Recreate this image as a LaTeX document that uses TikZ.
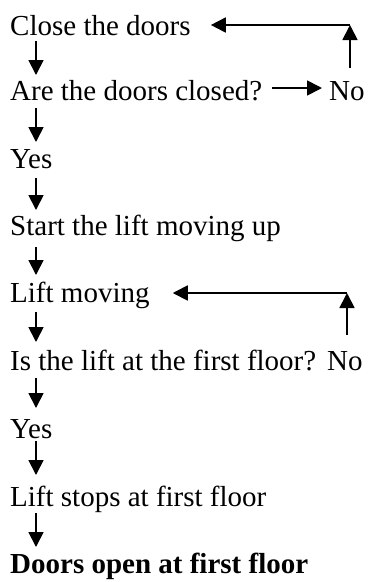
\documentclass[tikz,border=0pt]{standalone}
\usepackage{fontspec}
\setmainfont{Liberation Serif}
\usetikzlibrary{arrows.meta,calc}
\begin{document}
\begin{tikzpicture}[x=1pt,y=-1pt,
  lbl/.style={anchor=base west,inner sep=0pt,font=\fontsize{29}{34}\selectfont},
  arr/.style={line width=1.8pt,-{Triangle[length=15pt,width=15pt]}}]
\useasboundingbox (0,0) rectangle (371,582);
\coordinate (ax) at (36,0);
\node[lbl] (close) at (10,35) {Close the doors};
\node[lbl] (q1) at (10,100) {Are the doors closed?};
\node[lbl] (no1) at (329,100) {No};
\node[lbl] (yes1) at (10,168) {Yes};
\node[lbl] (start) at (10,235) {Start the lift moving up};
\node[lbl] (moving) at (10,302) {Lift moving};
\node[lbl] (q2) at (10,370) {Is the lift at the first floor?};
\node[lbl] (no2) at (327,370) {No};
\node[lbl] (yes2) at (10,438) {Yes};
\node[lbl] (stops) at (10,506) {Lift stops at first floor};
\node[lbl,font=\fontsize{29}{34}\selectfont\bfseries] (open) at (10,573) {Doors open at first floor};
% down arrows
\draw[arr] ($(ax |- close.base)+(0,-6pt)$) -- ($(ax |- q1.base)+(0,25pt)$);
\draw[arr] ($(ax |- q1.base)+(0,-8pt)$) -- ($(ax |- yes1.base)+(0,26pt)$);
\draw[arr] ($(ax |- yes1.base)+(0,-10pt)$) -- ($(ax |- start.base)+(0,25pt)$);
\draw[arr] ($(ax |- start.base)+(0,-12pt)$) -- ($(ax |- moving.base)+(0,27pt)$);
\draw[arr] ($(ax |- moving.base)+(0,-10pt)$) -- ($(ax |- q2.base)+(0,28pt)$);
\draw[arr] ($(ax |- q2.base)+(0,-8pt)$) -- ($(ax |- yes2.base)+(0,30pt)$);
\draw[arr] ($(ax |- yes2.base)+(0,-3pt)$) -- ($(ax |- stops.base)+(0,31pt)$);
\draw[arr] ($(ax |- stops.base)+(0,-7pt)$) -- ($(ax |- open.base)+(0,26pt)$);
% first loop
\draw[arr] ($(q1.base east)+(10pt,12pt)$) -- ($(no1.base west)+(-7pt,12pt)$);
\coordinate (c1) at (350,25);
\draw[arr] ($(no1.base west)+(21pt,32pt)$) -- (c1);
\draw[arr] (c1) -- ($(close.base east)+(20pt,10pt)$);
% second loop
\coordinate (c2) at (347,293);
\draw[arr] ($(no2.base west)+(20pt,35pt)$) -- (c2);
\draw[arr] (c2) -- ($(moving.base east)+(23pt,9pt)$);
\end{tikzpicture}
\end{document}
